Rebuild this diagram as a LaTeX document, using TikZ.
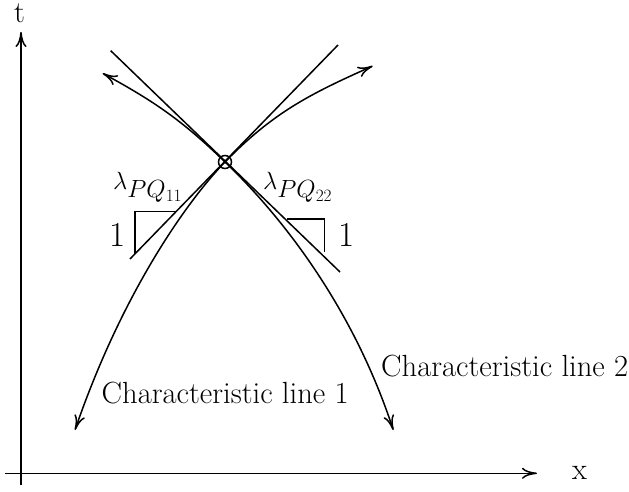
\documentclass[tikz,border=0pt]{standalone}
\usetikzlibrary{arrows.meta,calc}
\begin{document}
\begin{tikzpicture}[x=1pt,y=1pt,
  ln/.style={line width=1.5pt},
  tip/.tip={To[length=15pt,width=11pt]},
  arr/.style={ln,-tip},
  dbl/.style={ln,tip-tip},
  lbl/.style={inner sep=0pt,font=\fontsize{30.6}{36}\selectfont},
  big/.style={inner sep=0pt,font=\fontsize{35}{40}\selectfont}]
\useasboundingbox (0,0) rectangle (629,491);
% axes
\coordinate (tb) at (21,6);
\coordinate (tt) at (21,459);
\coordinate (xl) at (5,17.7);
\coordinate (xr) at (537,17.7);
\draw[arr] (tb) -- (tt);
\draw[arr] (xl) -- (xr);
\node[lbl,anchor=base west] (tlab) at (14,468.5) {t};
\node[lbl,anchor=base west] (xlab) at (572,12) {x};
% intersection point
\coordinate (P) at (225,329);
% tangent lines
\coordinate (A1) at (130,232);
\coordinate (A2) at (338,446);
\coordinate (B1) at (110.7,440.3);
\coordinate (B2) at (340,219);
\draw[ln] (A1) -- (A2);
\draw[ln] (B1) -- (B2);
% characteristic curves
\coordinate (C1a) at (75,61);
\coordinate (C1b) at (372.7,425);
\coordinate (C2a) at (102.7,417.7);
\coordinate (C2b) at (393.3,61);
\draw[dbl] (C1a) .. controls ($(C1a)+(71:150)$) and ($(P)+(225.8:50)$) .. (P)
  to[out=45.8,in=204] (C1b);
\draw[dbl] (C2a) to[out=-28.5,in=135.8] (P)
  .. controls ($(P)+(-43.7:50)$) and ($(C2b)+(108.2:150)$) .. (C2b);
\node[circle,draw,ln,minimum size=13pt,inner sep=0pt] (pc) at (P) {};
% slope triangles
\coordinate (T1h) at (176,279.3);
\coordinate (T1c) at (135,279.3);
\coordinate (T1v) at (135,237.1);
\draw[ln] (T1h) -- (T1c) -- (T1v);
\coordinate (T2h) at (287,272);
\coordinate (T2c) at (324.5,272);
\coordinate (T2v) at (324.5,239);
\draw[ln] (T2h) -- (T2c) -- (T2v);
% labels
\node[big,anchor=base west] (l11) at (113,301.7) {$\lambda_{PQ_{11}}$};
\node[big,anchor=base west] (l22) at (263,301.7) {$\lambda_{PQ_{22}}$};
\node[big,anchor=base] (one1) at (117.5,245) {1};
\node[big,anchor=base] (one2) at (346.5,245) {1};
\node[lbl,anchor=base west] (ch1) at (101.5,87.7) {Characteristic line 1};
\node[lbl,anchor=base west] (ch2) at (381,114.3) {Characteristic line 2};
\end{tikzpicture}
\end{document}
